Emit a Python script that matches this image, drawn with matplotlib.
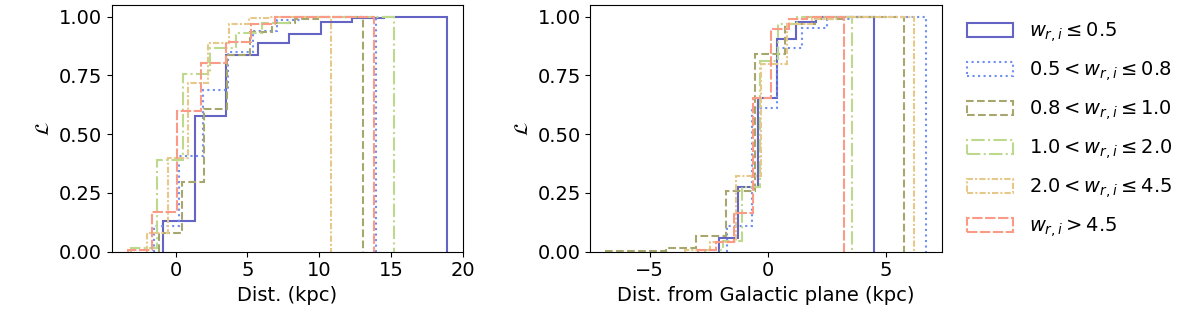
import matplotlib.pyplot as plt
import numpy as np

# legend labels, one per w_{r,i} group
labels = [r'$w_{r,i} \leq 0.5$', r'$0.5 < w_{r,i} \leq 0.8$', r'$0.8 < w_{r,i} \leq 1.0$',
          r'$1.0 < w_{r,i} \leq 2.0$', r'$2.0 < w_{r,i} \leq 4.5$', r'$w_{r,i} > 4.5$']
colors = ['#6464c4', '#6e8ef0', '#a6a66e', '#bcd98c', '#e6c98a', '#fb9a86']
styles = ['-', ':', '--', '-.', (0, (3, 1, 1, 1)), (0, (5, 1.2))]

# panel 1: distance (kpc) -- bin edges and cumulative fraction per group
dist_edges = [
    np.linspace(-0.88, 18.91, 10),
    np.linspace(-1.50, 13.94, 10),
    np.linspace(-1.16, 13.06, 10),
    np.linspace(-3.12, 15.21, 11),
    np.linspace(-1.98, 10.80, 10),
    np.linspace(-3.34, 13.80, 11),
]
dist_cum = [
    [0.131, 0.576, 0.835, 0.889, 0.927, 0.977, 0.993, 1.0, 1.0],
    [0.107, 0.405, 0.687, 0.851, 0.939, 0.985, 1.0, 1.0, 1.0],
    [0.078, 0.295, 0.605, 0.835, 0.935, 0.975, 0.99, 1.0, 1.0],
    [0.014, 0.391, 0.754, 0.868, 0.93, 0.975, 1.0, 1.0, 1.0, 1.0],
    [0.08, 0.398, 0.718, 0.889, 0.967, 0.995, 1.0, 1.0, 1.0],
    [0.007, 0.167, 0.597, 0.804, 0.892, 0.97, 1.0, 1.0, 1.0, 1.0],
]

# panel 2: distance from Galactic plane (kpc)
z_edges = [
    np.linspace(-2.07, 4.47, 9),
    np.linspace(-1.72, 6.69, 9),
    np.linspace(-6.84, 5.77, 11),
    np.linspace(-2.68, 3.56, 9),
    np.linspace(-3.53, 6.19, 10),
    np.linspace(-2.96, 3.20, 9),
]
z_cum = [
    [0.057, 0.277, 0.654, 0.905, 0.977, 1.0, 1.0, 1.0],
    [0.107, 0.612, 0.868, 0.953, 0.99, 1.0, 1.0, 1.0],
    [0.003, 0.003, 0.017, 0.067, 0.257, 0.843, 0.97, 0.99, 1.0, 1.0],
    [0.005, 0.045, 0.277, 0.81, 0.97, 1.0, 1.0, 1.0],
    [0.005, 0.04, 0.32, 0.797, 0.97, 0.99, 1.0, 1.0, 1.0],
    [0.005, 0.04, 0.164, 0.654, 0.946, 0.99, 1.0, 1.0],
]

plt.rcParams['font.size'] = 14

fig = plt.figure(figsize=(12, 3.28), dpi=100)
ax1 = fig.add_axes([0.093, 0.233, 0.293, 0.752])
ax2 = fig.add_axes([0.492, 0.233, 0.293, 0.752])


def cumstep(ax, edges, cum, **kw):
    # increments so that the cumulative histogram reproduces the read values
    inc = np.diff(np.concatenate([[0.0], cum]))
    ax.hist(edges[:-1], bins=edges, weights=inc, cumulative=True, histtype='step', **kw)


for i in range(6):
    cumstep(ax1, dist_edges[i], dist_cum[i], color=colors[i], linestyle=styles[i], lw=1.5, label=labels[i])
    cumstep(ax2, z_edges[i], z_cum[i], color=colors[i], linestyle=styles[i], lw=1.5, label=labels[i])

ax1.set_xlabel('Dist. (kpc)')
ax1.set_ylabel(r'$\mathcal{L}$')
ax2.set_xlabel('Dist. from Galactic plane (kpc)')
ax2.set_ylabel(r'$\mathcal{L}$')
ax1.set_yticks([0, 0.25, 0.5, 0.75, 1.0])
ax2.set_yticks([0, 0.25, 0.5, 0.75, 1.0])
ax2.set_xticks([-5, 0, 5])

ax2.legend(loc='upper left', bbox_to_anchor=(1.02, 1.01), frameon=False,
           handlelength=2.4, labelspacing=0.78)

fig.savefig('out.png', dpi=100)
